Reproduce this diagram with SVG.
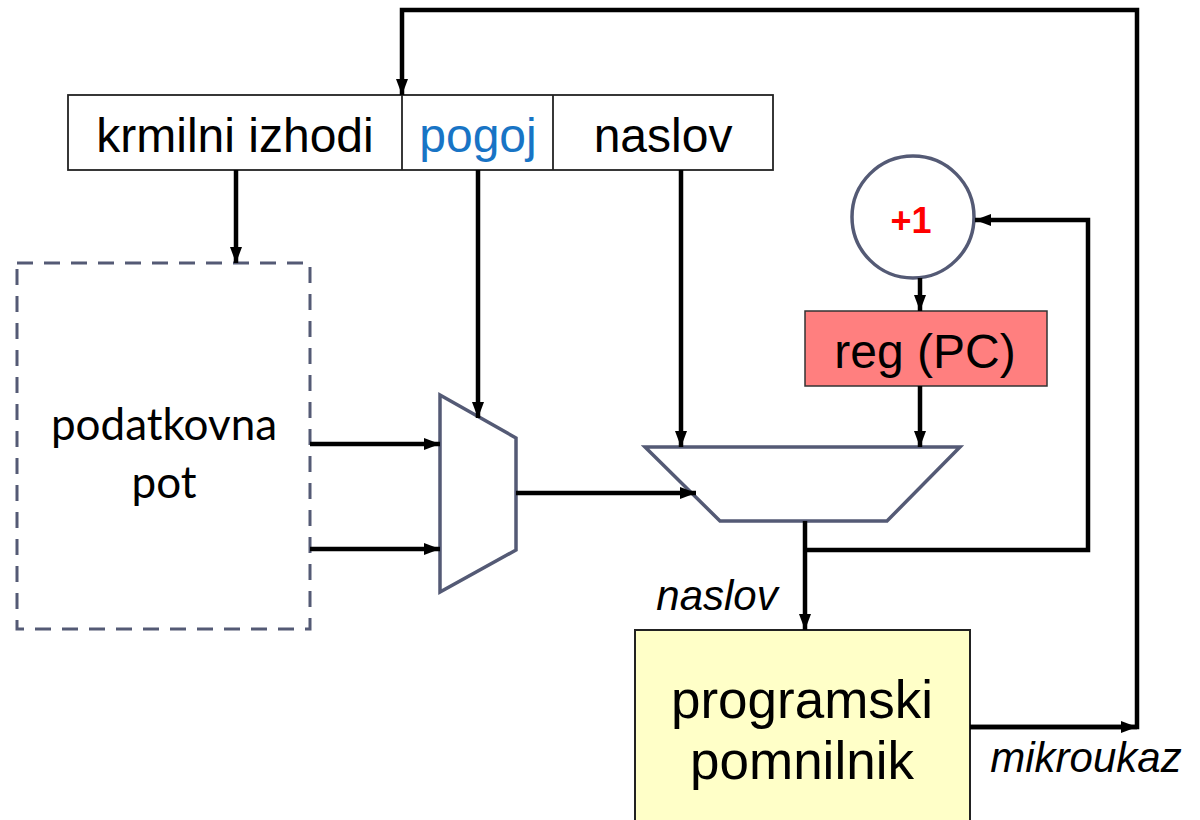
<svg xmlns="http://www.w3.org/2000/svg" width="1200" height="820" viewBox="0 0 1200 820">
<style>
.t{font-family:"Liberation Sans",Arial,sans-serif;fill:#000}
.g{font-family:Lato,"Open Sans",sans-serif;fill:#000}
.w{fill:none;stroke:#000;stroke-width:4.5}
.sh{fill:#fff;stroke:#545a75;stroke-width:3.5}
</style>
<defs>
<marker id="ah" markerUnits="userSpaceOnUse" markerWidth="18" markerHeight="14" refX="16" refY="6" orient="auto">
<path d="M0,0 L16,6 L0,12 Z" fill="#000"/>
</marker>
</defs>
<rect width="1200" height="820" fill="#fff"/>

<g id="instr">
<rect x="68" y="95" width="705" height="75" fill="#fff" stroke="#222" stroke-width="1.8"/>
<line x1="402" y1="95" x2="402" y2="170" stroke="#222" stroke-width="1.8"/>
<line x1="553" y1="95" x2="553" y2="170" stroke="#222" stroke-width="1.8"/>
<text class="t" x="235" y="152" font-size="48" text-anchor="middle">krmilni izhodi</text>
<text class="t" x="478" y="152" font-size="48" text-anchor="middle" style="fill:#1874c5">pogoj</text>
<text class="t" x="663" y="152" font-size="48" text-anchor="middle">naslov</text>
</g>

<g id="datapath">
<rect x="17" y="263" width="293" height="366" fill="none" stroke="#545a75" stroke-width="3" stroke-dasharray="16,11"/>
<text class="g" x="164" y="440" font-size="44" text-anchor="middle">podatkovna</text>
<text class="g" x="164" y="498" font-size="44" text-anchor="middle">pot</text>
</g>

<g id="mux1">
<polygon class="sh" points="440,395 516,438 516,550 440,592"/>
</g>

<g id="mux2">
<polygon class="sh" points="645,447 960,447 887,521 720,521"/>
</g>

<g id="inc">
<circle class="sh" cx="913" cy="217" r="61"/>
<text class="t" x="911" y="233" font-size="36" font-weight="bold" text-anchor="middle" style="fill:#f00">+1</text>
</g>

<g id="reg">
<rect x="805" y="311" width="242" height="75" fill="#ff7f7f" stroke="#333" stroke-width="1.5"/>
<text class="t" x="925" y="368" font-size="48" text-anchor="middle">reg (PC)</text>
</g>

<g id="mem">
<rect x="635" y="630" width="335" height="200" fill="#ffffc8" stroke="#222" stroke-width="2"/>
<text class="t" x="802" y="718" font-size="53" text-anchor="middle">programski</text>
<text class="t" x="802" y="779" font-size="53" text-anchor="middle">pomnilnik</text>
</g>

<g id="connectors">
<polyline class="w" points="970,727 1137,727 1137,10 402,10 402,95" marker-end="url(#ah)"/>
<line class="w" x1="970" y1="727" x2="1137" y2="727" marker-end="url(#ah)"/>
<line class="w" x1="236" y1="170" x2="236" y2="263" marker-end="url(#ah)"/>
<line class="w" x1="478" y1="170" x2="478" y2="418" marker-end="url(#ah)"/>
<line class="w" x1="681" y1="170" x2="681" y2="447" marker-end="url(#ah)"/>
<line class="w" x1="310" y1="444" x2="440" y2="444" marker-end="url(#ah)"/>
<line class="w" x1="310" y1="549" x2="440" y2="549" marker-end="url(#ah)"/>
<line class="w" x1="516" y1="493" x2="696" y2="493" marker-end="url(#ah)"/>
<line class="w" x1="920" y1="386" x2="920" y2="447" marker-end="url(#ah)"/>
<line class="w" x1="920" y1="278" x2="920" y2="311" marker-end="url(#ah)"/>
<line class="w" x1="805" y1="521" x2="805" y2="630" marker-end="url(#ah)"/>
<polyline class="w" points="805,550 1088,550 1088,220 975,220" marker-end="url(#ah)"/>
<text class="t" x="717" y="610" font-size="42" font-style="italic" text-anchor="middle">naslov</text>
<text class="t" x="1086" y="772" font-size="42" font-style="italic" text-anchor="middle">mikroukaz</text>
</g>
</svg>
